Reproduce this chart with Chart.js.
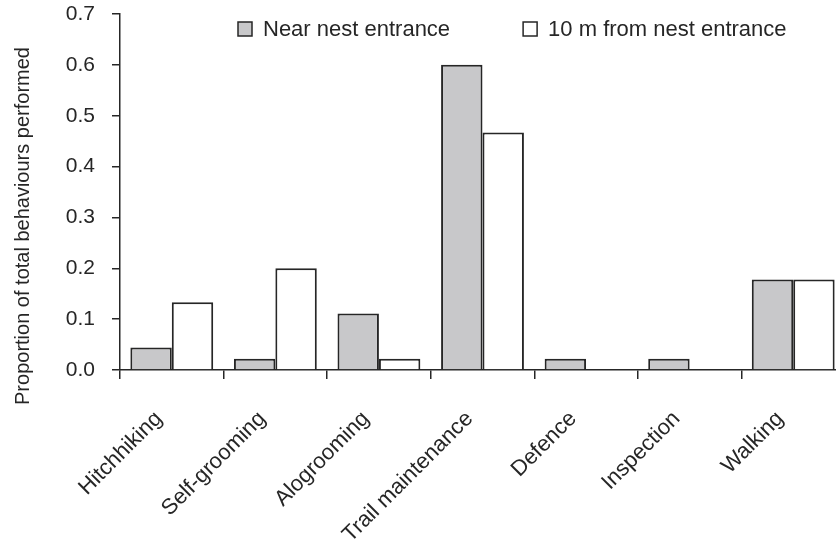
<!DOCTYPE html>
<html>
<head>
<meta charset="utf-8">
<script src="https://cdn.jsdelivr.net/npm/chart.js@4.4.1/dist/chart.umd.min.js"></script>
<style>
    html, body { margin: 0; padding: 0; background: #fff; overflow: hidden; }
    #wrap { width: 845px; height: 551px; }
</style>
</head>
<body>
<div id="wrap"><canvas id="behaviourChart" width="845" height="551"></canvas></div>
<script>
const behaviours = ['Hitchhiking', 'Self-grooming', 'Alogrooming', 'Trail maintenance', 'Defence', 'Inspection', 'Walking'];
const nearNest = [0.044, 0.022, 0.111, 0.6, 0.022, 0.022, 0.178];
const farNest = [0.133, 0.2, 0.022, 0.467, 0, 0, 0.178];
const yTicks = [0, 0.1, 0.2, 0.3, 0.4, 0.5, 0.6, 0.7];
const seriesNames = ['Near nest entrance', '10 m from nest entrance'];
const yTitle = 'Proportion of total behaviours performed';

const ink = '#262626';
const fontFamily = "'Liberation Sans', Arial, sans-serif";

// legend and rotated y title drawn by hand so they sit where the original has them
const extras = {
    id: 'extras',
    afterDraw(chart) {
        const ctx = chart.ctx;
        const area = chart.chartArea;
        ctx.save();
        ctx.font = '22px ' + fontFamily;
        ctx.textBaseline = 'middle';

        let x = area.left + 118;
        const y = area.top + 15;
        chart.data.datasets.forEach(ds => {
            ctx.fillStyle = ds.backgroundColor;
            ctx.fillRect(x, y - 7, 14, 14);
            ctx.strokeStyle = ink;
            ctx.lineWidth = 1.5;
            ctx.strokeRect(x, y - 7, 14, 14);
            ctx.fillStyle = ink;
            ctx.fillText(ds.label, x + 25, y + 1);
            x += 25 + ctx.measureText(ds.label).width + 73;
        });

        ctx.font = '20px ' + fontFamily;
        ctx.textAlign = 'center';
        ctx.translate(23, (area.top + area.bottom) / 2 + 34);
        ctx.rotate(-Math.PI / 2);
        ctx.fillText(yTitle, 0, 0);
        ctx.restore();
    }
};

new Chart(document.getElementById('behaviourChart'), {
    type: 'bar',
    data: {
        labels: behaviours,
        datasets: [{
            label: seriesNames[0],
            data: nearNest,
            backgroundColor: '#c8c8ca',
            borderColor: ink,
            borderWidth: 2,
            borderSkipped: 'bottom'
        }, {
            label: seriesNames[1],
            data: farNest,
            backgroundColor: '#ffffff',
            borderColor: ink,
            borderWidth: 2,
            borderSkipped: 'bottom'
        }]
    },
    options: {
        responsive: false,
        animation: false,
        layout: { padding: { top: 14, right: 0, left: 0, bottom: 0 } },
        datasets: {
            bar: { categoryPercentage: 0.8, barPercentage: 1.0 }
        },
        plugins: {
            legend: { display: false },
            tooltip: { enabled: false }
        },
        scales: {
            x: {
                afterFit: scale => { scale.height = 181; },
                grid: {
                    offset: true,
                    drawOnChartArea: false,
                    tickLength: 9,
                    color: ink,
                    lineWidth: 1.5
                },
                border: { color: ink, width: 1.5 },
                ticks: {
                    color: ink,
                    maxRotation: 45,
                    minRotation: 45,
                    padding: 27,
                    labelOffset: -13,
                    autoSkip: false,
                    font: { family: fontFamily, size: 22 }
                }
            },
            y: {
                min: 0,
                max: 0.7,
                afterFit: scale => {
                    scale.width = 120;
                    // tick padding would otherwise push the plot top down
                    scale.paddingTop = 0;
                    scale.paddingBottom = 0;
                },
                afterBuildTicks: scale => {
                    scale.ticks = yTicks.map(v => ({ value: v }));
                },
                grid: {
                    drawOnChartArea: false,
                    tickLength: 8,
                    color: ink,
                    lineWidth: 1.5
                },
                border: { color: ink, width: 1.5 },
                ticks: {
                    color: ink,
                    padding: 17,
                    font: { family: fontFamily, size: 21 },
                    callback: value => value.toFixed(1)
                }
            }
        }
    },
    plugins: [extras]
});
</script>
</body>
</html>
